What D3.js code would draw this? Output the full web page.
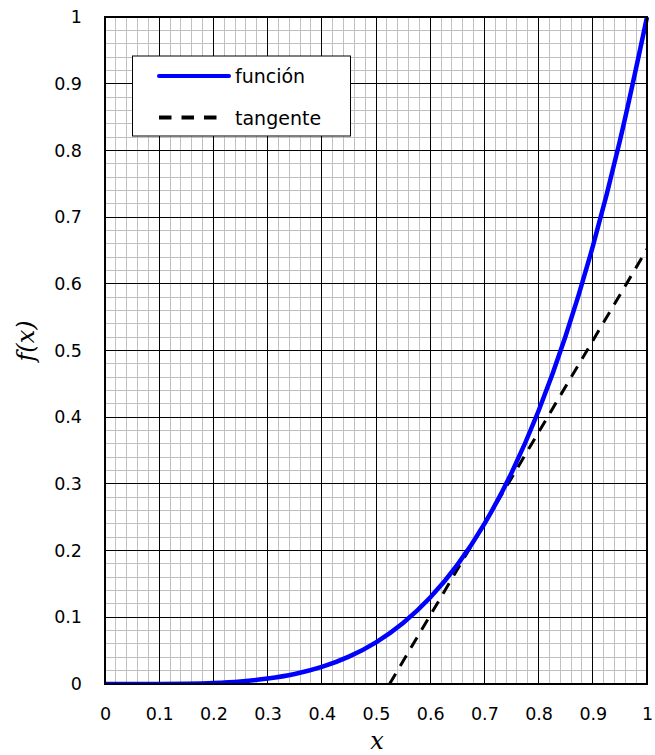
<!DOCTYPE html>
<html>
<head>
<meta charset="utf-8">
<script src="https://cdn.jsdelivr.net/npm/d3@7"></script>
<style>
  body { margin: 0; background: #fff; }
</style>
</head>
<body>
<svg id="chart" width="655" height="755"></svg>
<script>
// valores
const funcX = [0, 0.05, 0.1, 0.15, 0.2, 0.25, 0.3, 0.35, 0.4, 0.45, 0.5, 0.55, 0.6, 0.65, 0.7, 0.75, 0.8, 0.85, 0.9, 0.95, 1];
const funcY = [0, 0, 0.0001, 0.0005, 0.0016, 0.0039, 0.0081, 0.015, 0.0256, 0.041, 0.0625, 0.0915, 0.1296, 0.1785, 0.2401, 0.3164, 0.4096, 0.522, 0.6561, 0.8145, 1];
const tanX = [0.525, 1];
const tanY = [0, 0.652];
const tickVals = [0, 0.1, 0.2, 0.3, 0.4, 0.5, 0.6, 0.7, 0.8, 0.9, 1];
const legendItems = ['función', 'tangente'];

const sans = '"DejaVu Sans", Verdana, sans-serif';
const serif = '"DejaVu Serif", "Liberation Serif", serif';

const svg = d3.select('#chart');
const m = { left: 105, right: 647, top: 17, bottom: 684 };

const x = d3.scaleLinear().domain([0, 1]).range([m.left, m.right]);
const y = d3.scaleLinear().domain([0, 1]).range([m.bottom, m.top]);

// rejilla menor
const minor = d3.range(0, 1.0001, 0.02);
const grid = svg.append('g');
grid.selectAll('line.mx').data(minor).enter().append('line')
    .attr('x1', d => x(d)).attr('x2', d => x(d))
    .attr('y1', m.top).attr('y2', m.bottom)
    .attr('stroke', '#c0c0c0').attr('stroke-width', 1).attr('shape-rendering', 'crispEdges');
grid.selectAll('line.my').data(minor).enter().append('line')
    .attr('y1', d => y(d)).attr('y2', d => y(d))
    .attr('x1', m.left).attr('x2', m.right)
    .attr('stroke', '#c0c0c0').attr('stroke-width', 1).attr('shape-rendering', 'crispEdges');

// rejilla mayor
grid.selectAll('line.Mx').data(tickVals).enter().append('line')
    .attr('x1', d => x(d)).attr('x2', d => x(d))
    .attr('y1', m.top).attr('y2', m.bottom)
    .attr('stroke', '#000').attr('stroke-width', 1).attr('shape-rendering', 'crispEdges');
grid.selectAll('line.My').data(tickVals).enter().append('line')
    .attr('y1', d => y(d)).attr('y2', d => y(d))
    .attr('x1', m.left).attr('x2', m.right)
    .attr('stroke', '#000').attr('stroke-width', 1).attr('shape-rendering', 'crispEdges');

// ejes
const xAxis = svg.append('g').attr('transform', 'translate(0,' + (m.bottom + 21) + ')')
    .call(d3.axisBottom(x).tickValues(tickVals).tickFormat(d3.format('')).tickSize(0));
xAxis.select('.domain').remove();
xAxis.selectAll('text').attr('font-size', 17.5).attr('fill', '#000').attr('font-family', sans);

const yAxis = svg.append('g').attr('transform', 'translate(' + (m.left - 20) + ',0)')
    .call(d3.axisLeft(y).tickValues(tickVals).tickFormat(d3.format('')).tickSize(0));
yAxis.select('.domain').remove();
yAxis.selectAll('text').attr('font-size', 17.5).attr('fill', '#000').attr('font-family', sans);

// curvas
svg.append('clipPath').attr('id', 'clip').append('rect')
    .attr('x', m.left).attr('y', m.top - 2).attr('width', m.right - m.left + 2).attr('height', m.bottom - m.top + 2);

const line = d3.line().x(d => x(d[0])).y(d => y(d[1]));

svg.append('path')
    .datum(tanX.map((v, i) => [v, tanY[i]]))
    .attr('d', line)
    .attr('fill', 'none').attr('stroke', '#000').attr('stroke-width', 3)
    .attr('stroke-dasharray', '12,9');

svg.append('path')
    .datum(funcX.map((v, i) => [v, funcY[i]]))
    .attr('d', line.curve(d3.curveMonotoneX))
    .attr('clip-path', 'url(#clip)')
    .attr('fill', 'none').attr('stroke', '#0000ff').attr('stroke-width', 4.5);

// borde del área
svg.append('rect')
    .attr('x', m.left).attr('y', m.top).attr('width', m.right - m.left).attr('height', m.bottom - m.top)
    .attr('fill', 'none').attr('stroke', '#000').attr('stroke-width', 2);

// etiquetas de los ejes
svg.append('text').attr('x', 377).attr('y', 749).attr('text-anchor', 'middle')
    .attr('font-family', serif).attr('font-style', 'italic')
    .attr('font-size', 24).text('x');
svg.append('text').attr('transform', 'translate(34,341) rotate(-90)').attr('text-anchor', 'middle')
    .attr('font-family', serif).attr('font-style', 'italic')
    .attr('font-size', 24).text('f(x)');

// leyenda
const lg = svg.append('g');
lg.append('rect').attr('x', 132.5).attr('y', 56).attr('width', 218).attr('height', 80)
    .attr('fill', '#fff').attr('stroke', '#000').attr('stroke-width', 1);
const rows = lg.selectAll('g.item').data(legendItems).enter().append('g')
    .attr('transform', (d, i) => 'translate(0,' + (76 + i * 41.5) + ')');
rows.append('line').attr('x1', 159).attr('x2', (d, i) => i === 0 ? 229 : 218).attr('y1', 0).attr('y2', 0)
    .attr('stroke', (d, i) => i === 0 ? '#0000ff' : '#000')
    .attr('stroke-width', 4)
    .attr('stroke-linecap', (d, i) => i === 0 ? 'round' : 'butt')
    .attr('stroke-dasharray', (d, i) => i === 0 ? null : '12.5,10');
rows.append('text').attr('x', 235).attr('y', 7).attr('font-size', 19)
    .attr('font-family', sans).text(d => d);
</script>
</body>
</html>
